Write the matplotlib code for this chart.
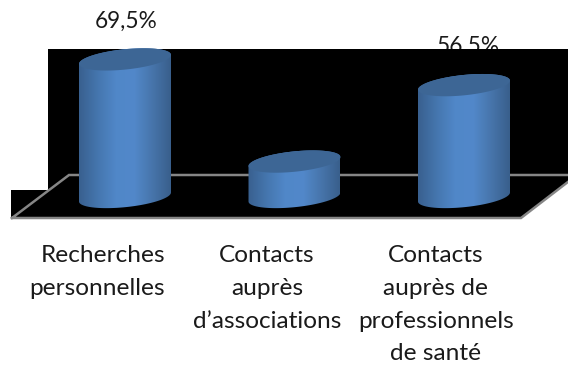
#plot.py
#3D looking cylinders on a black wall, redrawn by hand
import matplotlib
matplotlib.use("Agg")
import matplotlib.pyplot as plt
from matplotlib.patches import Polygon
from matplotlib.colors import LinearSegmentedColormap
import numpy as np

categories = [["Recherches", "personnelles"], ["Contacts", "auprès", "d’associations"],
              ["Contacts", "auprès de", "professionnels", "de santé"]]
values = [69.5, 17.9, 56.5]
value_labels = ["69,5%", "", "56,5%"]

W, H = 568, 365
PX_X = 169.5   # pixels for one category
PX_Y = 1.98    # pixels for one percent
X0, Y0 = 125.0, 197.0   # pixel position of first category, value 0

plt.rcParams['font.family'] = ['Lato', 'DejaVu Sans']
fig = plt.figure(figsize=(W / 100, H / 100), dpi=100)
ax = fig.add_axes([0, 0, 1, 1])
ax.set_xlim(-X0 / PX_X, (W - X0) / PX_X)
ax.set_ylim(-(H - Y0) / PX_Y, Y0 / PX_Y)
ax.axis("off")

def px(x, y):
    # pixel position (from top left) to data position
    return (x - X0) / PX_X, (Y0 - y) / PX_Y

# black wall
wall = [(48, 49), (568, 49), (568, 181.7), (521, 218), (11, 218), (11, 190), (48, 190)]
ax.add_patch(Polygon([px(*p) for p in wall], closed=True, fc="black", ec="none", zorder=2))

# floor lines
floor = [(12, 218), (69, 175), (577, 175), (521, 218), (12, 218)]
fx, fy = zip(*[px(*p) for p in floor])
ax.plot(fx, fy, color="#868686", lw=1.8, zorder=3, solid_joinstyle="miter")

side_cmap = LinearSegmentedColormap.from_list("side", ["#39608f", "#4576ae", "#5087c8", "#5288ca", "#4775ab", "#395f8c"])

half_w = 46.0 / PX_X
tilt = 4.5 / PX_Y
half_h = 10.2 / PX_Y
t = np.linspace(0, 2 * np.pi, 200)

for i, v in enumerate(values):
    ex = i + half_w * np.cos(t)
    ey = half_h * np.sin(t) + tilt * np.cos(t)
    # body: bottom ellipse, top ellipse and the sides between them
    lower = t[t >= np.pi]
    upper = t[t <= np.pi]
    body_x = np.r_[i + half_w * np.cos(lower), i + half_w * np.cos(upper)]
    body_y = np.r_[half_h * np.sin(lower) + tilt * np.cos(lower),
                   v + half_h * np.sin(upper) + tilt * np.cos(upper)]
    body = Polygon(np.c_[body_x, body_y], closed=True, fc="none", ec="none", zorder=4)
    ax.add_patch(body)
    im = ax.imshow(np.linspace(0, 1, 128).reshape(1, -1), cmap=side_cmap, aspect="auto",
                   extent=(i - half_w, i + half_w, -20, v + 20), zorder=4)
    im.set_clip_path(body)
    ax.add_patch(Polygon(np.c_[ex, v + ey], closed=True, fc="#3d6695", ec="none", zorder=5))

# value labels go under the wall, like in the original
label_off = [0.009, 0.0, 0.024]
for i, v in enumerate(values):
    ax.text(i + label_off[i], v + 16.1, value_labels[i], ha="center", va="baseline",
            fontsize=16.3, color="#1a1a1a", zorder=1)

# one text per line so the line pitch is exact
# first label is pushed to the right, its lines end at the same place
label_x = [165, 267, 436]
label_ha = ["right", "center", "center"]
for i, lines in enumerate(categories):
    for k, line in enumerate(lines):
        lx, ly = px(label_x[i], 262.5 + 32.5 * k)
        ax.text(lx, ly, line, ha=label_ha[i], va="baseline", fontsize=17.6,
                color="#1a1a1a", zorder=6)

ax.set_xlim(-X0 / PX_X, (W - X0) / PX_X)
ax.set_ylim(-(H - Y0) / PX_Y, Y0 / PX_Y)
fig.savefig("out.png", dpi=100, facecolor="white")
